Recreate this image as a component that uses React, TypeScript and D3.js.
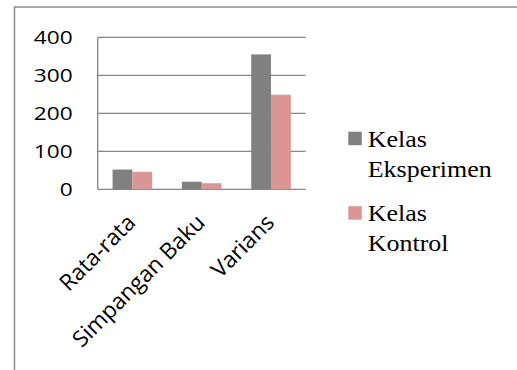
import React from "react";
import * as d3 from "d3";

// chart values
const categories = ["Rata-rata", "Simpangan Baku", "Varians"];
const seriesNames = ["Kelas Eksperimen", "Kelas Kontrol"];
const eksperimen = [52, 20, 355];
const kontrol = [46, 16, 249];
const yTicks = [0, 100, 200, 300, 400];

const colors = ["#808080", "#d99694"];
const gridColor = "#868686";

const App = () => {
  const width = 517;
  const height = 370;

  // plot area (pixels)
  const left = 97.7;
  const right = 305.7;
  const top = 37.3;
  const bottom = 189.3;

  const x = d3.scaleBand().domain(categories).range([left, right]);
  const bw = x.bandwidth() / 3.5; // gap width 150%
  const y = d3.scaleLinear().domain([0, 400]).range([bottom, top]);

  const series = [eksperimen, kontrol];

  return (
    <svg
      width={width}
      height={height}
      style={{ position: "absolute", left: 0, top: 0, background: "#fff" }}
    >
      {/* outer frame */}
      <rect x={14.5} y={7} width={540} height={400} fill="none" stroke="#8a8a8a" strokeWidth={1.5} />

      {/* gridlines */}
      {yTicks.map((t) => (
        <line key={t} x1={left} x2={right} y1={y(t)} y2={y(t)} stroke={gridColor} strokeWidth={1.3} />
      ))}
      <line x1={left} x2={left} y1={top} y2={bottom} stroke={gridColor} strokeWidth={1.3} />

      {/* y labels */}
      {yTicks.map((t) => (
        <text
          key={"l" + t}
          transform={`translate(72.7, ${y(t) + 6.6}) scale(1.22,1)`}
          textAnchor="end"
          style={{ fontFamily: "'Open Sans', sans-serif", fontSize: 18.6 }}
          fill="#000"
        >
          {t}
        </text>
      ))}

      {/* bars */}
      {categories.map((c, i) => (
        <g key={c}>
          {series.map((s, j) => (
            <rect
              key={j}
              x={x(c)! + x.bandwidth() / 2 - bw + j * bw}
              y={y(s[i])}
              width={bw}
              height={bottom - y(s[i])}
              fill={colors[j]}
            />
          ))}
        </g>
      ))}

      {/* x labels */}
      {categories.map((c) => (
        <text
          key={"x" + c}
          transform={`translate(${x(c)! + x.bandwidth() / 2 + 4.5}, 224) rotate(-45)`}
          textAnchor="end"
          style={{ fontFamily: "'Open Sans', sans-serif", fontSize: 22.5 }}
          fill="#000"
        >
          {c}
        </text>
      ))}

      {/* legend */}
      {seriesNames.map((name, j) => {
        const words = name.split(" ");
        const ly = 131.7 + j * 74.5;
        return (
          <g key={name}>
            <rect x={348.3} y={ly} width={13.5} height={13.5} fill={colors[j]} />
            {words.map((w, k) => (
              <text
                key={w}
                transform={`translate(367.7, ${ly + 15 + k * 30}) scale(1.15,1)`}
                style={{ fontFamily: "'Liberation Serif', 'DejaVu Serif', serif", fontSize: 22.6 }}
                fill="#000"
              >
                {w}
              </text>
            ))}
          </g>
        );
      })}
    </svg>
  );
};

export default App;
